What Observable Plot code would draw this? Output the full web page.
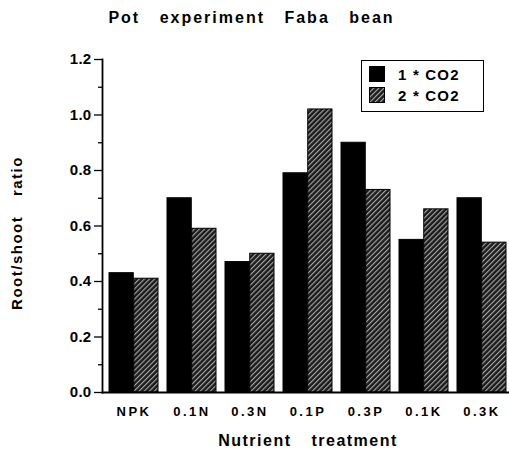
<!DOCTYPE html>
<html>
<head>
<meta charset="utf-8">
<script src="https://cdn.jsdelivr.net/npm/d3@7"></script>
<script src="https://cdn.jsdelivr.net/npm/@observablehq/plot@0.6"></script>
<style>
  html, body { margin: 0; padding: 0; background: #fff; overflow: hidden; }
  #wrap { position: relative; width: 509px; height: 450px; font-family: "Liberation Sans", Arial, Helvetica, sans-serif; font-weight: bold; color: #000; }
  #wrap svg text { font-family: "Liberation Sans", Arial, Helvetica, sans-serif; font-weight: bold; fill: #000; }
  #wrap g[aria-label="y-axis tick label"] text { font-size: 15px; letter-spacing: 0.3px; }
  #wrap g[aria-label="x-axis tick label"] text { font-size: 13px; letter-spacing: 2.5px; }
  .abs { position: absolute; white-space: nowrap; line-height: 1; }
  #title { left: 0; width: 503px; top: 10px; text-align: center; font-size: 16px; letter-spacing: 2px; word-spacing: 13px; }
  #xtitle { left: 308px; top: 433px; transform: translateX(-50%); font-size: 16px; letter-spacing: 1.5px; word-spacing: 14px; }
  #ytitle { left: 16px; top: 233px; transform: translate(-50%, -50%) rotate(-90deg); font-size: 15px; letter-spacing: 1.5px; word-spacing: 14px; }
  #legend { left: 361px; top: 60px; width: 121px; height: 50px; border: 1.5px solid #000; background: #fff; }
  .sw { position: absolute; left: 7px; width: 16px; height: 16px; }
  .lt { position: absolute; left: 36px; font-size: 15px; letter-spacing: 1.2px; line-height: 1; }
</style>
</head>
<body>
<svg width="0" height="0" style="position:absolute">
  <defs>
    <pattern id="hatch" patternUnits="userSpaceOnUse" width="3.6" height="3.6" patternTransform="rotate(45)">
      <rect x="0" y="0" width="3.6" height="3.6" fill="#1c1c1c"></rect>
      <rect x="0" y="0" width="1.1" height="3.6" fill="#a8a8a8"></rect>
    </pattern>
  </defs>
</svg>
<div id="wrap">
  <div id="chart"></div>
  <div id="title" class="abs">Pot experiment Faba bean</div>
  <div id="xtitle" class="abs">Nutrient treatment</div>
  <div id="ytitle" class="abs">Root/shoot ratio</div>
  <div id="legend" class="abs">
    <svg class="sw" style="top:5px"><rect width="16" height="16" fill="#000"></rect></svg>
    <div class="lt" style="top:6px">1 * CO2</div>
    <svg class="sw" style="top:26px"><rect x="0.5" y="0.5" width="15" height="15" fill="url(#hatch)" stroke="#000"></rect></svg>
    <div class="lt" style="top:27px">2 * CO2</div>
  </div>
</div>
<script>
// ---- data ----
const treatments = ["NPK", "0.1N", "0.3N", "0.1P", "0.3P", "0.1K", "0.3K"];
const co2x1 = [0.43, 0.70, 0.47, 0.79, 0.90, 0.55, 0.70];
const co2x2 = [0.41, 0.59, 0.50, 1.02, 0.73, 0.66, 0.54];
const yMajorTicks = [0, 0.2, 0.4, 0.6, 0.8, 1.0, 1.2];
const yMinorTicks = [0.1, 0.3, 0.5, 0.7, 0.9, 1.1];

const rows1 = treatments.map((t, i) => ({treatment: t, value: co2x1[i]}));
const rows2 = treatments.map((t, i) => ({treatment: t, value: co2x2[i]}));

// ---- layout ----
const W = 509, H = 450;
const mL = 102, mR = -4, mT = 59, mB = 58;
const padIn = 0.16, padOut = 0.07;
const step = (W - mL - mR) / (treatments.length - padIn + 2 * padOut);
const half = step * (1 - padIn) / 2;

const chart = Plot.plot({
  width: W,
  height: H,
  marginLeft: mL,
  marginRight: mR,
  marginTop: mT,
  marginBottom: mB,
  x: {type: "band", domain: treatments, paddingInner: padIn, paddingOuter: padOut, axis: null},
  y: {domain: [0, 1.2], axis: null},
  marks: [
    Plot.barY(rows1, {x: "treatment", y: "value", fill: "#000", stroke: "#000", strokeWidth: 1, insetRight: half}),
    Plot.barY(rows2, {x: "treatment", y: "value", fill: "url(#hatch)", stroke: "#000", strokeWidth: 1, insetLeft: half}),
    Plot.axisY({ticks: yMajorTicks, tickSize: 8, tickPadding: 3, tickFormat: d3.format(".1f"), strokeWidth: 1.3, label: null}),
    Plot.axisY({ticks: yMinorTicks, tickSize: 4, tickFormat: () => "", strokeWidth: 1.3, label: null}),
    Plot.axisX({tickSize: 0, tickPadding: 14, label: null}),
    Plot.frame({anchor: "left", strokeWidth: 1.8}),
    Plot.frame({anchor: "bottom", strokeWidth: 1.8})
  ]
});
document.getElementById("chart").appendChild(chart);
</script>
</body>
</html>
